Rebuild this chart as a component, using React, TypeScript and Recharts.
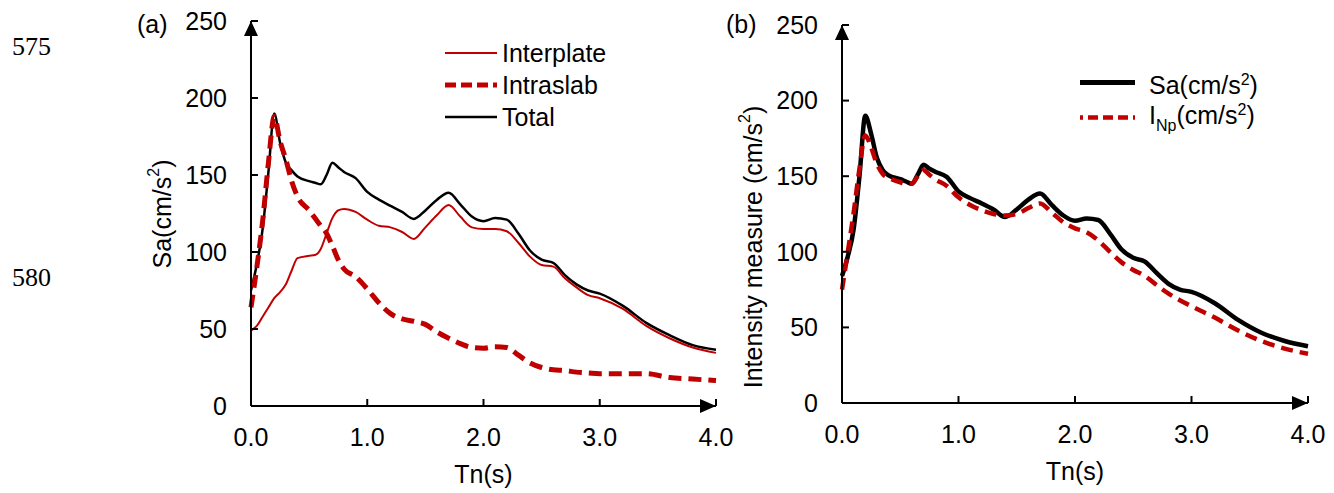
import React from 'react';
import { LineChart, Line, XAxis, YAxis, Legend, ReferenceDot } from 'recharts';

// Period grid (s) shared by every curve
const PERIOD = [
  0, 0.05, 0.1, 0.15, 0.2, 0.25, 0.3, 0.35, 0.4, 0.5, 0.55, 0.6, 0.65, 0.7, 0.75, 0.8, 0.9,
  1.0, 1.1, 1.2, 1.3, 1.4, 1.5, 1.6, 1.7, 1.8, 1.9, 2.0, 2.1, 2.2, 2.3, 2.4, 2.5, 2.6, 2.7,
  2.8, 2.9, 3.0, 3.2, 3.4, 3.6, 3.8, 4.0,
];

// panel (a)
const INTERPLATE = [
  49, 52, 58, 64, 70, 74, 79, 88, 96, 97.5, 98, 102, 112, 122, 127, 128, 126,
  121, 117, 116, 113, 108.5, 116, 124, 130.5, 123, 116, 115, 115, 113.5, 106, 97, 91.5, 90.5, 83,
  77, 72, 70, 63, 52, 44, 38, 34.5,
];
const INTRASLAB = [
  64, 90, 120, 158, 188, 172, 160, 146, 136, 127, 122, 117, 112, 104, 95, 89, 84,
  76, 67, 60, 56.5, 55, 53, 48, 44, 40.5, 38, 37.5, 38.5, 38, 33, 28, 25, 23.5, 23,
  22, 21.5, 21, 21, 21, 18.5, 17.5, 16.5,
];
const TOTAL = [
  75, 92, 115, 152, 190, 171, 158, 153, 149, 146, 145, 144, 150, 158, 155, 152, 148,
  139, 134, 130, 126, 121.5, 127, 134, 138.5, 131, 123, 120, 122, 121, 112, 101, 95, 93, 85,
  79, 75, 73, 65, 54, 46, 39.5, 36.5,
];

// panel (b)
const SA = [
  84, 97, 115, 150, 190, 178, 162, 154, 150.5, 148, 146.5, 145, 151, 157.5, 155, 153, 149.5,
  140, 135.5, 132, 128, 123, 128, 134.5, 138.5, 131, 124, 120.5, 122, 121, 112, 101.5, 96, 93.5, 86,
  79, 75, 73.5, 66, 55, 46.5, 41, 37.5,
];
const I_NP = [
  75, 100, 126, 155, 177, 169, 158, 151.5, 149, 146, 145, 145, 150, 154, 151, 148, 143.5,
  136, 131, 127.5, 125, 124, 125, 129, 132, 126, 119.5, 115.5, 113, 107.5, 100, 93, 88, 84, 78,
  72.5, 68, 64, 56.5, 48, 41, 36, 32.5,
];

const X_TICKS = [0, 1, 2, 3, 4];
const Y_TICKS = [0, 50, 100, 150, 200, 250];

const RED = '#c00000';
const FONT = '"Liberation Sans", Arial, sans-serif';
const FS = 25;
const X_GAP = 22;
const Y_GAP = 24;

const dataA = PERIOD.map((t, i) => ({
  t,
  interplate: INTERPLATE[i],
  intraslab: INTRASLAB[i],
  total: TOTAL[i],
}));
const dataB = PERIOD.map((t, i) => ({ t, sa: SA[i], inp: I_NP[i] }));

function XTick(props: any) {
  const { x, y, payload } = props;
  const axisY = y - X_GAP;
  return (
    <g>
      <line x1={x} x2={x} y1={axisY} y2={axisY - 7} stroke="#000" strokeWidth={2} />
      <text x={x} y={y} dy="0.71em" textAnchor="middle" fontFamily={FONT} fontSize={FS} fill="#000">
        {Number(payload.value).toFixed(1)}
      </text>
    </g>
  );
}

function YTick(props: any) {
  const { x, y, payload } = props;
  const axisX = x + Y_GAP;
  return (
    <g>
      <line x1={axisX} x2={axisX + 7} y1={y} y2={y} stroke="#000" strokeWidth={2} />
      <text x={x} y={y} dy="0.355em" textAnchor="end" fontFamily={FONT} fontSize={FS} fill="#000">
        {payload.value}
      </text>
    </g>
  );
}

const arrowRight = (p: any) => (
  <polygon points={`${p.cx},${p.cy} ${p.cx - 16},${p.cy - 7} ${p.cx - 16},${p.cy + 7}`} fill="#000" />
);
const arrowUp = (p: any) => (
  <polygon points={`${p.cx},${p.cy} ${p.cx - 7},${p.cy + 15} ${p.cx + 7},${p.cy + 15}`} fill="#000" />
);

function yTitle(text: string, cx: number, cy: number) {
  return () => (
    <text
      x={cx}
      y={cy}
      transform={`rotate(-90 ${cx} ${cy})`}
      textAnchor="middle"
      dominantBaseline="central"
      fontFamily={FONT}
      fontSize={FS}
      fill="#000"
    >
      {text}(cm/s
      <tspan dy={-9} fontSize={16}>2</tspan>
      <tspan dy={9}>)</tspan>
    </text>
  );
}

const xTitle = (props: any) => {
  const vb = props.viewBox;
  return (
    <text
      x={vb.x + vb.width / 2}
      y={vb.y + 68}
      textAnchor="middle"
      dominantBaseline="central"
      fontFamily={FONT}
      fontSize={FS}
      fill="#000"
    >
      Tn(s)
    </text>
  );
};

type LegendRow = { label: React.ReactNode; color: string; width: number; dash?: string };

function legendBox(rows: LegendRow[], sampleW: number, gap: number, rowH: number) {
  return () => (
    <div style={{ fontFamily: FONT, fontSize: FS, color: '#000' }}>
      {rows.map((r, i) => (
        <div key={i} style={{ display: 'flex', alignItems: 'center', height: rowH, whiteSpace: 'nowrap' }}>
          <svg width={sampleW} height={rowH} style={{ marginRight: gap }}>
            <line
              x1={0}
              x2={sampleW}
              y1={rowH / 2}
              y2={rowH / 2}
              stroke={r.color}
              strokeWidth={r.width}
              strokeDasharray={r.dash}
            />
          </svg>
          <span style={{ lineHeight: `${rowH}px` }}>{r.label}</span>
        </div>
      ))}
    </div>
  );
}

const LEGEND_A: LegendRow[] = [
  { label: 'Interplate', color: RED, width: 2 },
  { label: 'Intraslab', color: RED, width: 5, dash: '11 5' },
  { label: 'Total', color: '#000', width: 2.5 },
];

const LEGEND_B: LegendRow[] = [
  {
    label: (
      <>
        Sa(cm/s<span style={{ fontSize: 16, verticalAlign: 9 }}>2</span>)
      </>
    ),
    color: '#000',
    width: 5,
  },
  {
    label: (
      <>
        I<span style={{ fontSize: 16, verticalAlign: -7 }}>Np</span>(cm/s
        <span style={{ fontSize: 16, verticalAlign: 9 }}>2</span>)
      </>
    ),
    color: RED,
    width: 4.5,
    dash: '3 5 10 5 10 5 10 5',
  },
];

const textStyle: React.CSSProperties = {
  position: 'absolute',
  fontFamily: FONT,
  fontSize: FS,
  lineHeight: `${FS}px`,
  color: '#000',
  whiteSpace: 'nowrap',
};

const lineNoStyle: React.CSSProperties = {
  position: 'absolute',
  left: 12,
  fontFamily: '"Liberation Serif", "Times New Roman", serif',
  fontSize: 26,
  lineHeight: '26px',
  color: '#000',
};

export default function App() {
  return (
    <div style={{ position: 'absolute', left: 0, top: 0, width: 1334, height: 493, background: '#fff' }}>
      <div style={{ ...lineNoStyle, top: 34 }}>575</div>
      <div style={{ ...lineNoStyle, top: 265 }}>580</div>
      <div style={{ ...textStyle, left: 137, top: 12 }}>(a)</div>
      <div style={{ ...textStyle, left: 726, top: 12 }}>(b)</div>

      <div style={{ position: 'absolute', left: 0, top: 0 }}>
        <LineChart width={740} height={493} data={dataA} margin={{ top: 21, right: 24, bottom: 27, left: 171 }}>
          <XAxis
            dataKey="t"
            type="number"
            domain={[0, 4]}
            ticks={X_TICKS}
            height={60}
            tickSize={0}
            tickMargin={X_GAP}
            tick={<XTick />}
            axisLine={{ stroke: '#000', strokeWidth: 2 }}
            label={xTitle}
          />
          <YAxis
            type="number"
            domain={[0, 250]}
            ticks={Y_TICKS}
            width={80}
            tickSize={0}
            tickMargin={Y_GAP}
            tick={<YTick />}
            axisLine={{ stroke: '#000', strokeWidth: 2 }}
            label={yTitle('Sa', 162, 214)}
          />
          <Legend
            layout="vertical"
            align="center"
            verticalAlign="middle"
            content={legendBox(LEGEND_A, 52, 5, 32)}
            wrapperStyle={{ left: 445, top: 37, width: 'auto', height: 'auto' }}
          />
          <Line type="monotone" dataKey="total" stroke="#000" strokeWidth={2.5} dot={false} activeDot={false} isAnimationActive={false} />
          <Line type="monotone" dataKey="interplate" stroke={RED} strokeWidth={2} dot={false} activeDot={false} isAnimationActive={false} />
          <Line
            type="monotone"
            dataKey="intraslab"
            stroke={RED}
            strokeWidth={5}
            strokeDasharray="13 7"
            dot={false}
            activeDot={false}
            isAnimationActive={false}
          />
          <ReferenceDot x={4} y={0} r={0} ifOverflow="visible" shape={arrowRight} />
          <ReferenceDot x={0} y={250} r={0} ifOverflow="visible" shape={arrowUp} />
        </LineChart>
      </div>

      <div style={{ position: 'absolute', left: 720, top: 0 }}>
        <LineChart width={614} height={493} data={dataB} margin={{ top: 25, right: 26, bottom: 30, left: 42 }}>
          <XAxis
            dataKey="t"
            type="number"
            domain={[0, 4]}
            ticks={X_TICKS}
            height={60}
            tickSize={0}
            tickMargin={X_GAP}
            tick={<XTick />}
            axisLine={{ stroke: '#000', strokeWidth: 2 }}
            label={xTitle}
          />
          <YAxis
            type="number"
            domain={[0, 250]}
            ticks={Y_TICKS}
            width={80}
            tickSize={0}
            tickMargin={Y_GAP}
            tick={<YTick />}
            axisLine={{ stroke: '#000', strokeWidth: 2 }}
            label={yTitle('Intensity measure ', 33, 247)}
          />
          <Legend
            layout="vertical"
            align="center"
            verticalAlign="middle"
            content={legendBox(LEGEND_B, 55, 14, 35)}
            wrapperStyle={{ left: 360, top: 65, width: 'auto', height: 'auto' }}
          />
          <Line type="monotone" dataKey="sa" stroke="#000" strokeWidth={4.5} dot={false} activeDot={false} isAnimationActive={false} />
          <Line
            type="monotone"
            dataKey="inp"
            stroke={RED}
            strokeWidth={4.5}
            strokeDasharray="12 7"
            dot={false}
            activeDot={false}
            isAnimationActive={false}
          />
          <ReferenceDot x={4} y={0} r={0} ifOverflow="visible" shape={arrowRight} />
          <ReferenceDot x={0} y={250} r={0} ifOverflow="visible" shape={arrowUp} />
        </LineChart>
      </div>
    </div>
  );
}
